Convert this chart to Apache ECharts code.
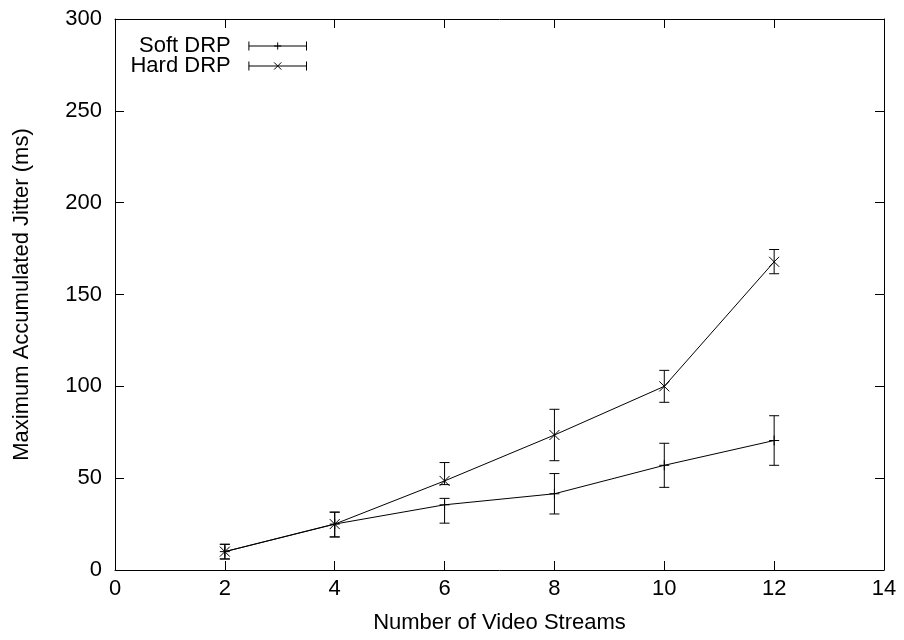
<!DOCTYPE html>
<html>
<head>
<meta charset="utf-8">
<script src="https://cdn.jsdelivr.net/npm/echarts@6/dist/echarts.min.js"></script>
<style>
  html, body { margin: 0; padding: 0; background: #fff; }
  #main { width: 904px; height: 640px; }
</style>
</head>
<body>
<div id="main"></div>
<script>
const streams = [2, 4, 6, 8, 10, 12]

const softMean = [10, 25, 35.5, 41.5, 57, 70.5]
const softLow = [6, 18, 25.5, 30.5, 45, 57]
const softHigh = [14, 31.5, 39, 52.5, 69, 84]

const hardMean = [10, 25, 48.5, 73.5, 100, 167.8]
const hardLow = [6, 18, 46.5, 59.5, 91.3, 161.3]
const hardHigh = [14, 31.5, 58.5, 87.5, 108.7, 174.5]

const FONT = 'Liberation Sans, Arial, Helvetica, sans-serif'

const plusSymbol = 'path://M0,5L10,5M5,0L5,10'
const crossSymbol = 'path://M0,0L10,10M0,10L10,0'
const plusIcon = 'path://M0,0L0,10M0,5L64,5M64,0L64,10M28,5L36,5M32,1L32,9'
const crossIcon = 'path://M0,0L0,10M0,5L64,5M64,0L64,10M28,1L36,9M28,9L36,1'

const chart = echarts.init(document.getElementById('main'))

function errorBars (api) {
    const x = api.value(0)
    const lo = api.coord([x, api.value(1)])
    const hi = api.coord([x, api.value(2)])
    const half = 5
    const style = { stroke: '#000', lineWidth: 1 }
    return {
        type: 'group',
        children: [
            { type: 'line', shape: { x1: lo[0], y1: lo[1], x2: hi[0], y2: hi[1] }, style },
            { type: 'line', shape: { x1: lo[0] - half, y1: lo[1], x2: lo[0] + half, y2: lo[1] }, style },
            { type: 'line', shape: { x1: hi[0] - half, y1: hi[1], x2: hi[0] + half, y2: hi[1] }, style }
        ]
    }
}

const tick = () => ({ show: true, inside: true, length: 9, lineStyle: { color: '#000', width: 1 } })
const axisLine = () => ({ show: true, onZero: false, lineStyle: { color: '#000', width: 1 } })
const labelStyle = { color: '#000', fontSize: 22, fontFamily: FONT }

function legendFor (name, icon, top) {
    return {
        orient: 'vertical',
        right: 590,
        top,
        align: 'right',
        itemWidth: 64,
        itemHeight: 9,
        itemGap: 0,
        selectedMode: false,
        icon,
        textStyle: { color: '#000', fontSize: 22, fontFamily: FONT, padding: [0, 10, 0, 0] },
        data: [{ name, icon, itemStyle: { color: 'none', borderColor: '#000', borderWidth: 1 } }]
    }
}

const option = {
    animation: false,
    backgroundColor: '#fff',
    grid: { left: 115, right: 20, top: 19, bottom: 70 },
    legend: [
        legendFor('Soft DRP', plusIcon, 30),
        legendFor('Hard DRP', crossIcon, 50)
    ],
    xAxis: [
        {
            type: 'value', position: 'bottom', min: 0, max: 14, interval: 2,
            name: 'Number of Video Streams', nameLocation: 'middle', nameGap: 42,
            nameTextStyle: labelStyle,
            axisLine: axisLine(), axisTick: tick(), splitLine: { show: false },
            axisLabel: Object.assign({ margin: 8 }, labelStyle)
        },
        {
            type: 'value', position: 'top', min: 0, max: 14, interval: 2,
            axisLine: axisLine(), axisTick: tick(), splitLine: { show: false },
            axisLabel: { show: false }
        }
    ],
    yAxis: [
        {
            type: 'value', position: 'left', min: 0, max: 300, interval: 50,
            name: 'Maximum Accumulated Jitter (ms)', nameLocation: 'middle', nameGap: 82,
            nameTextStyle: labelStyle,
            axisLine: axisLine(), axisTick: tick(), splitLine: { show: false },
            axisLabel: Object.assign({ margin: 13 }, labelStyle)
        },
        {
            type: 'value', position: 'right', min: 0, max: 300, interval: 50,
            axisLine: axisLine(), axisTick: tick(), splitLine: { show: false },
            axisLabel: { show: false }
        }
    ],
    series: [
        {
            name: 'Soft DRP',
            type: 'line',
            data: streams.map((x, i) => [x, softMean[i]]),
            symbol: plusSymbol,
            symbolSize: 10,
            showAllSymbol: true,
            lineStyle: { color: '#000', width: 1 },
            itemStyle: { color: 'none', borderColor: '#000', borderWidth: 1 }
        },
        {
            name: 'Hard DRP',
            type: 'line',
            data: streams.map((x, i) => [x, hardMean[i]]),
            symbol: crossSymbol,
            symbolSize: 10,
            showAllSymbol: true,
            lineStyle: { color: '#000', width: 1 },
            itemStyle: { color: 'none', borderColor: '#000', borderWidth: 1 }
        },
        {
            name: 'Soft DRP err',
            type: 'custom',
            renderItem: (params, api) => errorBars(api),
            encode: { x: 0, y: [1, 2] },
            data: streams.map((x, i) => [x, softLow[i], softHigh[i]])
        },
        {
            name: 'Hard DRP err',
            type: 'custom',
            renderItem: (params, api) => errorBars(api),
            encode: { x: 0, y: [1, 2] },
            data: streams.map((x, i) => [x, hardLow[i], hardHigh[i]])
        }
    ]
}

chart.setOption(option)
</script>
</body>
</html>
